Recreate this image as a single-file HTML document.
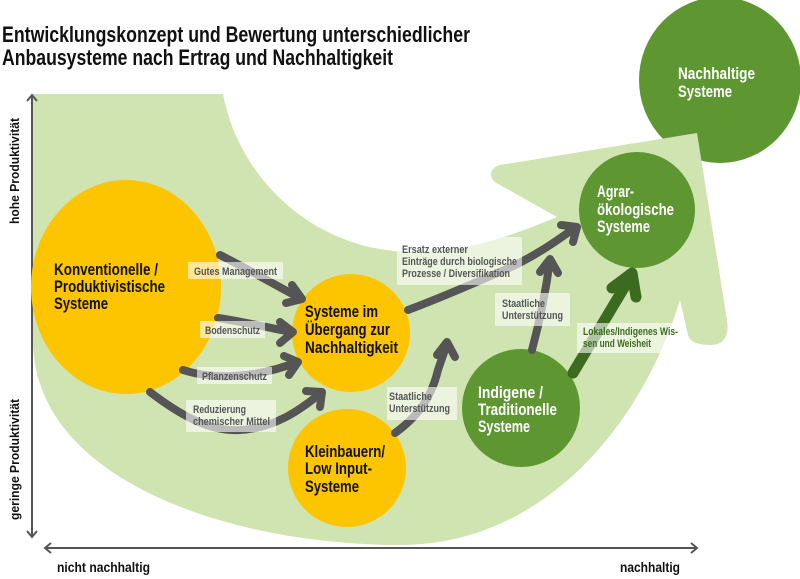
<!DOCTYPE html>
<html><head><meta charset="utf-8"><style>
html,body{margin:0;padding:0;background:#fff;}
svg{display:block;}
text{font-family:"Liberation Sans Narrow","Liberation Sans",sans-serif;font-weight:bold;}
.lb{font-size:11px;fill:#555;font-weight:bold;}
.ct{font-size:17px;fill:#111;}
.cw{font-size:17px;fill:#fff;}
</style></head><body>
<svg width="800" height="579" viewBox="0 0 800 579" xmlns="http://www.w3.org/2000/svg">
<text x="2" y="42" font-size="22" fill="#111" textLength="468" lengthAdjust="spacingAndGlyphs">Entwicklungskonzept und Bewertung unterschiedlicher</text>
<text x="2" y="65" font-size="22" fill="#111" textLength="391" lengthAdjust="spacingAndGlyphs">Anbausysteme nach Ertrag und Nachhaltigkeit</text>

<ellipse cx="720" cy="80" rx="81" ry="83" fill="#5e9732"/>

<path d="M33 94 L223 94 C238 175 310 250 410 252 C470 253 520 232 557 217 L500 185 C488 180 488 168 500 165 L697 133 L727 320 C730 340 720 345 712 345 C700 345 690 343 688 335 L680 300 C640 430 540 545 400 545 C230 545 33 480 33 340 Z" fill="#d0e4b2"/>

<g stroke="#555" stroke-width="2" fill="none">
<line x1="32" y1="95" x2="32" y2="537"/>
<polyline points="27,101 32,95 37,101"/>
<polyline points="27,531 32,537 37,531"/>
<line x1="45" y1="548" x2="697" y2="548"/>
<polyline points="51,543 45,548 51,553"/>
<polyline points="691,543 697,548 691,553"/>
</g>
<text transform="translate(19,224) rotate(-90)" font-size="13" fill="#111" textLength="106" lengthAdjust="spacingAndGlyphs">hohe Produktivität</text>
<text transform="translate(19,520) rotate(-90)" font-size="13" fill="#111" textLength="121" lengthAdjust="spacingAndGlyphs">geringe Produktivität</text>
<text x="57" y="572" font-size="14" fill="#111" textLength="93" lengthAdjust="spacingAndGlyphs">nicht nachhaltig</text>
<text x="620" y="572" font-size="14" fill="#111" textLength="60" lengthAdjust="spacingAndGlyphs">nachhaltig</text>

<ellipse cx="126" cy="287" rx="95" ry="107" fill="#fdc400"/>
<circle cx="351" cy="333" r="59" fill="#fdc400"/>
<circle cx="347" cy="468" r="59" fill="#fdc400"/>
<circle cx="521" cy="408" r="59" fill="#5e9732"/>
<circle cx="637" cy="210" r="58" fill="#5e9732"/>

<g stroke="#555" stroke-width="8" fill="none" stroke-linecap="round" stroke-linejoin="round">
<path d="M220 255 C250 270 280 288 300 298"/>
<polyline points="292,285 302,299 286,303"/>
<path d="M218 318 C245 322 270 328 291 332"/>
<polyline points="280,322 293,332 280,343"/>
<path d="M183 370 C220 382 265 375 297 362"/>
<polyline points="284,356 298,362 289,375"/>
<path d="M150 392 C180 415 210 432 240 430 C275 428 300 410 321 393"/>
<polyline points="306,391 322,392 320,407"/>
<path d="M408 310 C440 298 470 285 495 274 C530 260 555 242 576 227"/>
<polyline points="561,225 577,227 573,242"/>
<path d="M395 433 C420 415 432 395 438 370 C442 358 445 350 447 343"/>
<polyline points="437,355 447,342 455,357"/>
<path d="M532 350 C540 320 546 290 550 260"/>
<polyline points="540,272 550,259 558,273"/>
</g>
<g stroke="#3b6b1e" stroke-width="11" fill="none" stroke-linecap="round" stroke-linejoin="round">
<path d="M573 373 L631 276"/>
<polyline points="612,288 632,273 636,297"/>
</g>

<g fill="#fff" fill-opacity="0.6">
<rect x="188" y="262" width="95" height="17"/>
<rect x="200" y="321" width="65" height="17"/>
<rect x="197" y="367" width="75" height="17"/>
<rect x="186" y="400" width="90" height="32"/>
<rect x="397" y="237" width="125" height="48"/>
<rect x="495" y="293" width="75" height="33"/>
<rect x="387" y="387" width="70" height="33"/>
<rect x="577" y="323" width="95" height="30"/>
</g>
<text class="lb" x="194" y="275" textLength="83" lengthAdjust="spacingAndGlyphs">Gutes Management</text>
<text class="lb" x="205" y="334" textLength="55" lengthAdjust="spacingAndGlyphs">Bodenschutz</text>
<text class="lb" x="202" y="380" textLength="65" lengthAdjust="spacingAndGlyphs">Pflanzenschutz</text>
<text class="lb" x="193" y="413" textLength="53" lengthAdjust="spacingAndGlyphs">Reduzierung</text>
<text class="lb" x="193" y="425" textLength="77" lengthAdjust="spacingAndGlyphs">chemischer Mittel</text>
<text class="lb" x="402" y="253" textLength="66" lengthAdjust="spacingAndGlyphs">Ersatz externer</text>
<text class="lb" x="402" y="265" textLength="115" lengthAdjust="spacingAndGlyphs">Einträge durch biologische</text>
<text class="lb" x="402" y="277" textLength="108" lengthAdjust="spacingAndGlyphs">Prozesse / Diversifikation</text>
<text class="lb" x="502" y="307" textLength="43" lengthAdjust="spacingAndGlyphs">Staatliche</text>
<text class="lb" x="502" y="319" textLength="61" lengthAdjust="spacingAndGlyphs">Unterstützung</text>
<text class="lb" x="389" y="400" textLength="43" lengthAdjust="spacingAndGlyphs">Staatliche</text>
<text class="lb" x="389" y="412" textLength="61" lengthAdjust="spacingAndGlyphs">Unterstützung</text>
<text class="lb" x="583" y="335" style="fill:#3b6b1e" textLength="95" lengthAdjust="spacingAndGlyphs">Lokales/Indigenes Wis-</text>
<text class="lb" x="583" y="347" style="fill:#3b6b1e" textLength="68" lengthAdjust="spacingAndGlyphs">sen und Weisheit</text>

<text class="ct" x="54" y="275" textLength="104" lengthAdjust="spacingAndGlyphs">Konventionelle /</text>
<text class="ct" x="54" y="292" textLength="111" lengthAdjust="spacingAndGlyphs">Produktivistische</text>
<text class="ct" x="54" y="309" textLength="54" lengthAdjust="spacingAndGlyphs">Systeme</text>
<text class="ct" x="305" y="317" textLength="73" lengthAdjust="spacingAndGlyphs">Systeme im</text>
<text class="ct" x="305" y="335" textLength="85" lengthAdjust="spacingAndGlyphs">Übergang zur</text>
<text class="ct" x="305" y="353" textLength="93" lengthAdjust="spacingAndGlyphs">Nachhaltigkeit</text>
<text class="ct" x="305" y="457" textLength="80" lengthAdjust="spacingAndGlyphs">Kleinbauern/</text>
<text class="ct" x="305" y="474" textLength="67" lengthAdjust="spacingAndGlyphs">Low Input-</text>
<text class="ct" x="305" y="492" textLength="54" lengthAdjust="spacingAndGlyphs">Systeme</text>
<text class="cw" x="478" y="398" textLength="65" lengthAdjust="spacingAndGlyphs">Indigene /</text>
<text class="cw" x="478" y="415" textLength="79" lengthAdjust="spacingAndGlyphs">Traditionelle</text>
<text class="cw" x="478" y="432" textLength="52" lengthAdjust="spacingAndGlyphs">Systeme</text>
<text class="cw" x="597" y="197" textLength="37" lengthAdjust="spacingAndGlyphs">Agrar-</text>
<text class="cw" x="597" y="215" textLength="77" lengthAdjust="spacingAndGlyphs">ökologische</text>
<text class="cw" x="597" y="232" textLength="53" lengthAdjust="spacingAndGlyphs">Systeme</text>
<text class="cw" x="678" y="79" textLength="77" lengthAdjust="spacingAndGlyphs">Nachhaltige</text>
<text class="cw" x="678" y="97" textLength="54" lengthAdjust="spacingAndGlyphs">Systeme</text>
</svg>
</body></html>
